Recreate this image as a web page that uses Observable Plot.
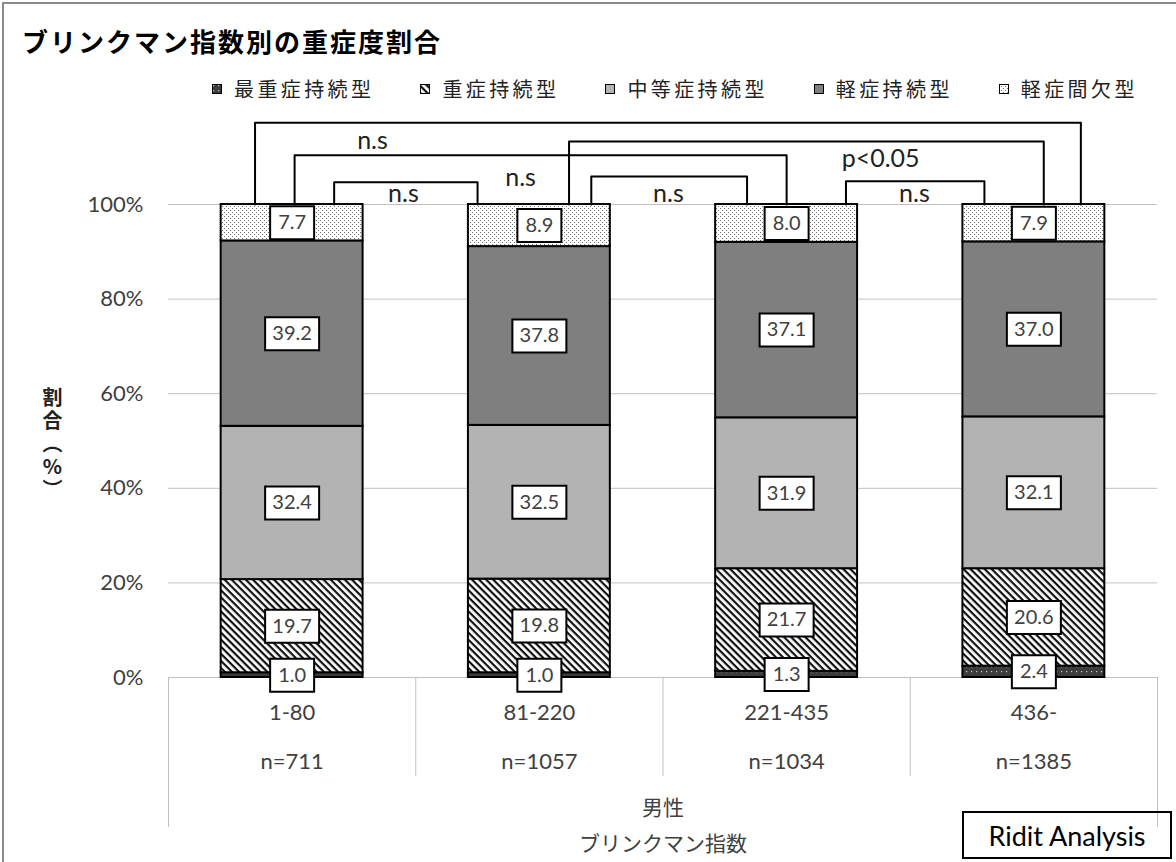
<!DOCTYPE html>
<html><head><meta charset="utf-8">
<script src="https://cdn.jsdelivr.net/npm/d3@7"></script>
<script src="https://cdn.jsdelivr.net/npm/@observablehq/plot@0.6"></script>
<style>
body{margin:0;background:#fff;}
#wrap{position:relative;width:1176px;height:862px;overflow:hidden;font-family:Lato,"Noto Sans CJK JP",sans-serif;}
#chart svg{position:absolute;left:0;top:0;}
#border{position:absolute;left:2px;top:2px;width:1200px;height:900px;border-left:2px solid #8a8a8a;border-top:2px solid #8a8a8a;}
#title{position:absolute;left:22px;top:27px;font:bold 26px "Noto Sans CJK JP";letter-spacing:2px;line-height:28px;color:#000;white-space:nowrap;}
#legend{position:absolute;left:212px;top:76px;display:flex;gap:46px;font:20px "Noto Sans CJK JP";letter-spacing:3.4px;line-height:26px;color:#222;white-space:nowrap;}
.item{display:flex;align-items:center;}
.item svg{margin-right:12px;}
#ridit{position:absolute;left:962px;top:811px;width:206px;height:44px;border:2px solid #000;font:27px Lato;display:flex;align-items:center;justify-content:center;color:#000;}
#ytitle{position:absolute;left:45px;top:387px;width:22px;line-height:22px;writing-mode:vertical-rl;text-orientation:upright;font:bold 20px "Noto Sans CJK JP";letter-spacing:3px;color:#222;white-space:nowrap;}
</style>
</head><body>
<svg width="0" height="0" style="position:absolute">
<defs>
<pattern id="pMost" width="5" height="5" patternUnits="userSpaceOnUse"><rect width="5" height="5" fill="#3c3c3c"/><rect x="1" y="1" width="1.2" height="1.2" fill="#cfcfcf"/></pattern>
<pattern id="pSevere" width="5" height="5" patternUnits="userSpaceOnUse" patternTransform="rotate(45)"><rect width="5" height="5" fill="#fff"/><rect width="5" height="2.2" fill="#111"/></pattern>
<pattern id="pInter" width="4" height="4" patternUnits="userSpaceOnUse"><rect width="4" height="4" fill="#fff"/><rect x="0" y="0" width="1" height="1" fill="#6e6e6e"/><rect x="2" y="2" width="1" height="1" fill="#6e6e6e"/></pattern>
</defs></svg>
<div id="wrap">
  <div id="chart"></div>
  <div id="border"></div>
  <div id="title"></div>
  <div id="legend"></div>
  <div id="ytitle"></div>
  <div id="ridit"></div>
</div>
<script>
// ---- data ----
const chartTitle = "ブリンクマン指数別の重症度割合";
const categories = ["1-80", "81-220", "221-435", "436-"];
const nLabels = ["n=711", "n=1057", "n=1034", "n=1385"];
const series = ["最重症持続型", "重症持続型", "中等症持続型", "軽症持続型", "軽症間欠型"];
const mostSevere = [1.0, 1.0, 1.3, 2.4];
const severe = [19.7, 19.8, 21.7, 20.6];
const moderate = [32.4, 32.5, 31.9, 32.1];
const mildPersistent = [39.2, 37.8, 37.1, 37.0];
const mildIntermittent = [7.7, 8.9, 8.0, 7.9];
const yTicks = [0, 20, 40, 60, 80, 100];
const groupLabel = "男性";
const xTitle = "ブリンクマン指数";
const yTitle = "割合（%）";
const analysisNote = "Ridit Analysis";
// significance brackets (x in category-index units, y in %)
const sigText = ["n.s", "n.s", "p<0.05", "n.s", "n.s", "n.s"];
const bracketX1 = [0.35, 0.51, 1.62, 0.67, 1.71, 2.74];
const bracketX2 = [3.69, 2.50, 3.54, 1.25, 2.34, 3.30];
const bracketY = [117.3, 110.4, 113.3, 104.7, 105.9, 104.9];
const sigX = [0.825, 1.424, 2.88, 0.95, 2.022, 3.017];
const sigY = [113.5, 105.5, 109.7, 102.3, 102.3, 102.3];

const fills = ["url(#pMost)", "url(#pSevere)", "#b3b3b3", "#7f7f7f", "url(#pInter)"];
const values = [mostSevere, severe, moderate, mildPersistent, mildIntermittent];

const rows = [];
categories.forEach((c, i) => {
  let acc = 0;
  series.forEach((s, k) => {
    const v = values[k][i];
    rows.push({cat: c, i, series: s, value: v, y1: acc, y2: acc + v, label: v.toFixed(1)});
    acc += v;
  });
});
const bracketPts = [];
bracketX1.forEach((x1, k) => {
  bracketPts.push({k, x: x1, y: 100}, {k, x: x1, y: bracketY[k]}, {k, x: bracketX2[k], y: bracketY[k]}, {k, x: bracketX2[k], y: 100});
});

const hw = 0.287;
const boxSym = (w, h) => ({draw(ctx) {ctx.moveTo(-w/2, -h/2); ctx.lineTo(w/2, -h/2); ctx.lineTo(w/2, h/2); ctx.lineTo(-w/2, h/2); ctx.closePath();}});
const cx = d => d.i + 0.5;
const cy = d => (d.y1 + d.y2) / 2;

const chart = Plot.plot({
  width: 1176, height: 862,
  marginLeft: 168, marginRight: 19, marginTop: 204, marginBottom: 185,
  x: {domain: [0, 4], axis: null},
  y: {domain: [0, 100], axis: null},
  color: {domain: series, range: fills},
  style: {fontFamily: "Lato, 'Noto Sans CJK JP', sans-serif", fontSize: "22px", color: "#404040", background: "transparent"},
  marks: [
    Plot.gridY(yTicks, {stroke: "#c0c0c0", strokeOpacity: 1, strokeWidth: 1}),
    Plot.axisY(yTicks, {tickSize: 0, tickPadding: 25, tickFormat: d => d + "%", fontSize: 22, fill: "#404040", label: null}),
    Plot.ruleX([1, 2, 3], {stroke: "#c0c0c0", insetTop: 473, insetBottom: -99}),
    Plot.ruleX([0, 4], {stroke: "#c0c0c0", insetTop: 473, insetBottom: -150}),
    Plot.rectY(rows, {x1: d => d.i + 0.5 - hw, x2: d => d.i + 0.5 + hw, y1: "y1", y2: "y2", fill: "series", stroke: "#000", strokeWidth: 2}),
    Plot.dot(rows, {filter: d => d.label.length <= 3, x: cx, y: cy, r: 5, symbol: boxSym(44, 33), fill: "#fff", stroke: "#000", strokeWidth: 2}),
    Plot.dot(rows, {filter: d => d.label.length > 3, x: cx, y: cy, r: 5, symbol: boxSym(54, 33), fill: "#fff", stroke: "#000", strokeWidth: 2}),
    Plot.text(rows, {x: cx, y: cy, text: "label", fontSize: 20, fill: "#404040"}),
    Plot.line(bracketPts, {x: "x", y: "y", z: "k", stroke: "#000", strokeWidth: 2, curve: "linear"}),
    Plot.text(sigText, {x: (d, i) => sigX[i], y: (d, i) => sigY[i], text: d => d, fontSize: 25, fill: "#222"}),
    Plot.text(categories, {x: (d, i) => i + 0.5, frameAnchor: "bottom", dy: 35, lineAnchor: "middle", text: d => d, fontSize: 22, fill: "#404040"}),
    Plot.text(nLabels, {x: (d, i) => i + 0.5, frameAnchor: "bottom", dy: 84, lineAnchor: "middle", text: d => d, fontSize: 22, fill: "#404040"}),
    Plot.text([groupLabel], {frameAnchor: "bottom", dy: 131, lineAnchor: "middle", text: d => d, fontFamily: "Noto Sans CJK JP", fontSize: 21, fill: "#404040"}),
    Plot.text([xTitle], {frameAnchor: "bottom", dy: 167, lineAnchor: "middle", text: d => d, fontFamily: "Noto Sans CJK JP", fontSize: 21, fill: "#404040"})
  ]
});
document.getElementById("chart").append(chart);
document.getElementById("title").textContent = chartTitle;
document.getElementById("ytitle").textContent = yTitle;
document.getElementById("ridit").textContent = analysisNote;

// legend
const legend = document.getElementById("legend");
series.forEach((s, k) => {
  const item = document.createElement("div");
  item.className = "item";
  item.innerHTML = `<svg width="10" height="10"><rect x="0.5" y="0.5" width="9" height="9" fill="${fills[k]}" stroke="#000" stroke-width="1"/></svg><span>${s}</span>`;
  legend.append(item);
});
</script>
</body></html>
